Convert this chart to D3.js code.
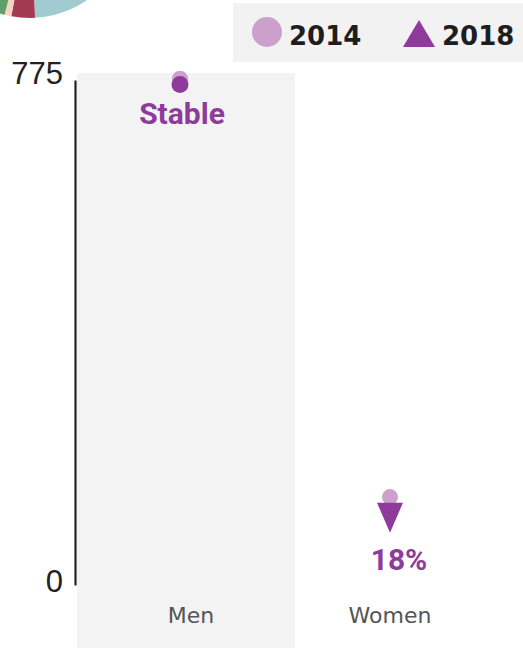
<!DOCTYPE html>
<html>
<head>
<meta charset="utf-8">
<script src="https://cdn.jsdelivr.net/npm/d3@7"></script>
<style>
  html, body { margin: 0; padding: 0; background: #fff; }
  svg { display: block; }
</style>
</head>
<body>
<script>
// Chart data
const categories = ["Men", "Women"];
const years = ["2014", "2018"];
const values2014 = [777, 135];
const values2018 = [768, 111];
const changeLabels = ["Stable", "18%"];
const tickValues = [0, 775];

// Slices of the neighbouring pie (only its lower edge is in view)
const pieSlices = [49.2, 3.8, 1.1, 45.9];
const pieColors = ["#9fcbd1", "#a23a52", "#f7d4c0", "#5e9f6b"];

const W = 523, H = 648;
const lightPurple = "#cc9fcc";
const darkPurple = "#8e3b9b";

const svg = d3.select("body").append("svg")
  .attr("width", W).attr("height", H);

// Partial pie at the top-left corner
const pie = d3.pie().sort(null).value(d => d);
const arc = d3.arc().innerRadius(0).outerRadius(100);
svg.append("g")
  .attr("transform", "translate(30,-82)")
  .selectAll("path")
  .data(pie(pieSlices))
  .join("path")
  .attr("d", arc)
  .attr("fill", (d, i) => pieColors[i]);

// Scales
const y = d3.scaleLinear().domain([0, 775]).range([585, 80]);
const x = d3.scaleBand().domain(categories).range([80, 500]);
const cx = c => x(c) + x.bandwidth() / 2 - 5;
// category labels sit on their own point scale
const xLabel = d3.scalePoint().domain(categories).range([191, 390]);

// Shaded band behind the first category
svg.append("rect")
  .attr("x", 77).attr("y", 73)
  .attr("width", 218).attr("height", H - 73)
  .attr("fill", "#f3f3f3");

// Y axis
const yAxis = svg.append("g")
  .attr("transform", "translate(75,0)")
  .call(d3.axisLeft(y).tickValues(tickValues).tickSize(0).tickPadding(12).tickFormat(d3.format("d")));
yAxis.select(".domain").attr("stroke", "#222").attr("stroke-width", 2.2);
yAxis.selectAll("text")
  .attr("font-family", "Liberation Sans, Arial, sans-serif")
  .attr("font-size", 31)
  .attr("fill", "#222")
  .attr("dy", "0.36em");
yAxis.selectAll(".tick").filter(d => d === 775).select("text").attr("dy", "0.1em");
yAxis.selectAll(".tick").filter(d => d === 0).select("text").attr("dy", "0.22em");

// Category labels
svg.append("g")
  .selectAll("text")
  .data(categories)
  .join("text")
  .attr("x", c => xLabel(c))
  .attr("y", 623)
  .attr("text-anchor", "middle")
  .attr("font-family", "DejaVu Sans, sans-serif")
  .attr("font-size", 22)
  .attr("fill", "#555")
  .text(d => d);

// 2014 markers
svg.append("g")
  .selectAll("circle")
  .data(categories)
  .join("circle")
  .attr("cx", c => cx(c))
  .attr("cy", (c, i) => y(values2014[i]))
  .attr("r", 8)
  .attr("fill", lightPurple);

// 2018 markers: circle when stable, triangle pointing in the direction of change
const tri = (px, py, dir) => {
  const w = 26, h = 30;
  // centroid sits one third of the height from the base
  const baseY = py - dir * h / 3, tipY = py + dir * 2 * h / 3;
  return `M${px - w / 2},${baseY}L${px + w / 2},${baseY}L${px},${tipY}Z`;
};
categories.forEach((c, i) => {
  const v14 = values2014[i], v18 = values2018[i];
  const stable = changeLabels[i] === "Stable";
  if (stable) {
    svg.append("circle")
      .attr("cx", cx(c)).attr("cy", y(v18))
      .attr("r", 8.5).attr("fill", darkPurple);
  } else {
    const dir = v18 < v14 ? 1 : -1;
    svg.append("path")
      .attr("d", tri(cx(c), y(v18), dir))
      .attr("fill", darkPurple);
  }
});

// Change labels
svg.append("g")
  .selectAll("text")
  .data(categories)
  .join("text")
  .attr("x", (c, i) => i === 0 ? cx(c) + 2 : cx(c) + 9)
  .attr("y", (c, i) => i === 0 ? y(values2018[i]) + 39 : y(values2018[i]) + 57)
  .attr("text-anchor", "middle")
  .attr("font-family", "Roboto, sans-serif")
  .attr("font-weight", 700)
  .attr("font-size", 30)
  .attr("fill", darkPurple)
  .text((c, i) => changeLabels[i]);

// Legend
const legend = svg.append("g");
legend.append("rect")
  .attr("x", 233).attr("y", 3)
  .attr("width", W - 233).attr("height", 59)
  .attr("fill", "#f2f2f2");
legend.append("circle")
  .attr("cx", 267).attr("cy", 32).attr("r", 15)
  .attr("fill", lightPurple);
legend.append("path")
  .attr("d", "M403,47L435,47L419,20Z")
  .attr("fill", darkPurple);
legend.selectAll("text.yr")
  .data(years)
  .join("text")
  .attr("class", "yr")
  .attr("x", (d, i) => i === 0 ? 289 : 442)
  .attr("y", 45)
  .attr("font-family", "DejaVu Sans, sans-serif")
  .attr("font-weight", 700)
  .attr("font-size", 26)
  .attr("fill", "#1e1e1e")
  .text(d => d);
</script>
</body>
</html>
